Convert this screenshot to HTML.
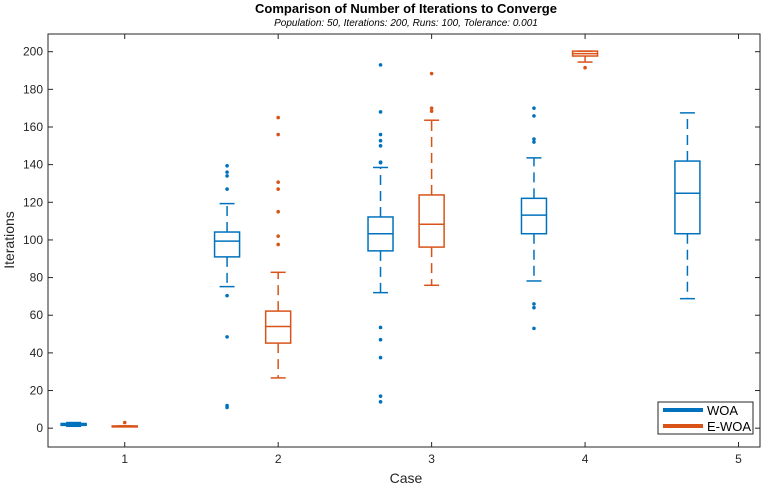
<!DOCTYPE html>
<html><head><meta charset="utf-8">
<style>
html,body{margin:0;padding:0;background:#fff;}
svg{display:block;font-family:"Liberation Sans",Arial,sans-serif;}
</style></head>
<body>
<svg id="chart" width="767" height="487" viewBox="0 0 767 487">
<text x="406" y="13" text-anchor="middle" font-size="13" font-weight="bold" fill="#000">Comparison of Number of Iterations to Converge</text>
<text x="406" y="26" text-anchor="middle" font-size="10" font-style="italic" fill="#000">Population: 50, Iterations: 200, Runs: 100, Tolerance: 0.001</text>
<g id="marks"></g>
<g id="axes"></g>
<text x="406" y="483" text-anchor="middle" font-size="14" fill="#262626">Case</text>
<text transform="translate(14,240) rotate(-90)" text-anchor="middle" font-size="14" fill="#262626">Iterations</text>
<g>
<rect x="658" y="402" width="95" height="32" fill="#fff" stroke="#262626" stroke-width="1"/>
<g>
<line x1="663" y1="410" x2="703" y2="410" stroke="#0072BD" stroke-width="4"/>
<text x="707" y="415" font-size="13" fill="#000">WOA</text></g>
<g>
<line x1="663" y1="426" x2="703" y2="426" stroke="#D95319" stroke-width="4"/>
<text x="707" y="431" font-size="13" fill="#000">E-WOA</text></g>
</g>
</svg>
<script>
const cases = [1, 2, 3, 4, 5];
const yTicks = [0, 20, 40, 60, 80, 100, 120, 140, 160, 180, 200];
// [whiskerLow, q1, median, q3, whiskerHigh]
const woaStats = [
  [1, 1.5, 2, 2.5, 3],
  [75.2, 91, 99.4, 104.2, 119.3],
  [72, 94.2, 103.3, 112.2, 138.5],
  [78.2, 103.3, 113.2, 122.1, 143.6],
  [68.8, 103.3, 124.8, 141.9, 167.5]
];
const ewoaStats = [
  [1, 1, 1, 1.2, 1.2],
  [26.7, 45.2, 54, 62.2, 82.8],
  [75.9, 96.2, 108.3, 123.9, 163.6],
  [194.5, 197.7, 199, 200.3, 200.3],
  null
];
const woaOutliers = [
  [],
  [139.4, 136, 134, 127, 70.4, 48.5, 12, 11],
  [193, 168, 156, 152.7, 150, 141.3, 141, 53.5, 47, 37.5, 17, 14],
  [170, 165.9, 153.6, 152, 66, 64, 53],
  []
];
const ewoaOutliers = [
  [3],
  [165, 156, 130.7, 127, 115, 102, 97.6],
  [188.4, 170, 168.4],
  [191.5],
  []
];
const NS = "http://www.w3.org/2000/svg";
const L = 48, R = 760, T = 34, B = 447;
const xMin = 0.5, xMax = 5.14, yMin = -10, yMax = 209.4;
const xs = v => L + (v - xMin) / (xMax - xMin) * (R - L);
const ys = v => B - (v - yMin) / (yMax - yMin) * (B - T);
function mk(tag, attrs, parent){const e=document.createElementNS(NS,tag);for(const k in attrs)e.setAttribute(k,attrs[k]);parent.appendChild(e);return e;}
const marks = document.getElementById('marks');
const axes = document.getElementById('axes');
function drawBox(stats, outs, pos, color, name){
  const g = mk('g', {}, marks);
  
  
  const cx = xs(pos), hw = 12.5, cw = 9;
  const [wl,q1,md,q3,wh] = stats;
  mk('line',{x1:cx,y1:ys(q3),x2:cx,y2:ys(wh),stroke:color,'stroke-width':1.5,'stroke-dasharray':'10,6'},g);
  mk('line',{x1:cx,y1:ys(q1),x2:cx,y2:ys(wl),stroke:color,'stroke-width':1.5,'stroke-dasharray':'10,6'},g);
  mk('line',{x1:cx-cw/2-3,y1:ys(wh),x2:cx+cw/2+3,y2:ys(wh),stroke:color,'stroke-width':1.5},g);
  mk('line',{x1:cx-cw/2-3,y1:ys(wl),x2:cx+cw/2+3,y2:ys(wl),stroke:color,'stroke-width':1.5},g);
  mk('rect',{x:cx-hw,y:ys(q3),width:2*hw,height:Math.max(ys(q1)-ys(q3),1),fill:'none',stroke:color,'stroke-width':1.5},g);
  mk('line',{x1:cx-hw,y1:ys(md),x2:cx+hw,y2:ys(md),stroke:color,'stroke-width':1.5},g);
  outs.forEach(o=>{
    const c = mk('circle',{cx:cx,cy:ys(o),r:1.8,fill:color},g);
    
    
  });
}
cases.forEach((c,i)=>{
  drawBox(woaStats[i], woaOutliers[i], c - 0.333, '#0072BD', 'box-woa-case-' + c);
  if (ewoaStats[i]) drawBox(ewoaStats[i], ewoaOutliers[i], c, '#D95319', 'box-ewoa-case-' + c);
});
mk('rect',{x:L,y:T,width:R-L,height:B-T,fill:'none',stroke:'#262626','stroke-width':1},axes);
yTicks.forEach(t=>{
  const y = ys(t);
  mk('line',{x1:L,y1:y,x2:L+5,y2:y,stroke:'#262626'},axes);
  mk('line',{x1:R,y1:y,x2:R-5,y2:y,stroke:'#262626'},axes);
  const tx = mk('text',{x:L-5,y:y+4,'text-anchor':'end','font-size':12,fill:'#262626'},axes);
  tx.textContent = t;
  
  
});
cases.forEach(c=>{
  const x = xs(c);
  mk('line',{x1:x,y1:B,x2:x,y2:B-5,stroke:'#262626'},axes);
  mk('line',{x1:x,y1:T,x2:x,y2:T+5,stroke:'#262626'},axes);
  const tx = mk('text',{x:x,y:B+16,'text-anchor':'middle','font-size':12,fill:'#262626'},axes);
  tx.textContent = c;
  
  
});
</script>
</body></html>
